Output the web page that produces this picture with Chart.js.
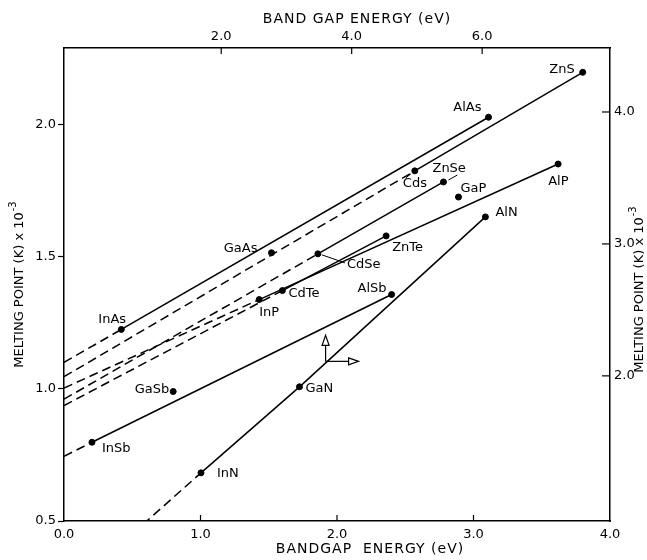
<!DOCTYPE html>
<html>
<head>
<meta charset="utf-8">
<script src="https://cdn.jsdelivr.net/npm/chart.js@4.4.0/dist/chart.umd.min.js"></script>
<style>
  body { margin: 0; background: #fff; }
  #wrap { width: 647px; height: 560px; }
</style>
</head>
<body>
<div id="wrap"><canvas id="meltChart" width="647" height="560"></canvas></div>
<script>
// Compounds read against bottom (band gap, eV) and left (melting point, K x 10^-3) axes
const compounds    = ['ZnS', 'AlAs', 'Cds', 'ZnSe', 'GaP', 'AlP', 'ZnTe', 'GaAs', 'CdSe', 'CdTe', 'InP', 'InAs', 'AlSb', 'GaSb', 'InSb'];
const bandGap      = [3.80, 3.11, 2.57, 2.78, 2.89, 3.62, 2.36, 1.52, 1.86, 1.60, 1.43, 0.42, 2.40, 0.80, 0.205];
const meltingPoint = [2.198, 2.028, 1.825, 1.783, 1.726, 1.851, 1.579, 1.515, 1.511, 1.372, 1.338, 1.225, 1.357, 0.99, 0.798];

// Nitrides, read against top and right axes
const nitrides    = ['InN', 'GaN', 'AlN'];
const nitrideGap  = [1.69, 3.20, 6.05];
const nitrideMelt = [1.265, 1.917, 3.205];
const nitrideAxisEnd = [0.80, 0.874]; // where the dashed part leaves the frame

// Solid lines between compounds, and the melting point where each dashed extension meets the left axis
const lineFrom = ['InAs', 'Cds', 'CdSe', 'InP', 'CdTe', 'InSb'];
const lineTo   = ['AlAs', 'ZnS', 'ZnSe', 'AlP', 'ZnTe', 'AlSb'];
const axisMelt = [1.100, 1.046, 0.961, 1.003, 0.937, 0.745];

// Tick labels
const bottomTicks = [0, 1, 2, 3, 4];
const leftTicks   = [0.5, 1.0, 1.5, 2.0];
const topTicks    = [2, 4, 6];
const rightTicks  = [2, 3, 4];

const FONT = '"DejaVu Sans", sans-serif';
const lineStyle = { borderColor: '#000', borderWidth: 1.5, pointRadius: 0, showLine: true, fill: false };
const dash = [9, 5];

function pt(name) {
    const i = compounds.indexOf(name);
    return { x: bandGap[i], y: meltingPoint[i] };
}

const datasets = [];
lineFrom.forEach(function(a, k) {
    datasets.push(Object.assign({ data: [{ x: 0, y: axisMelt[k] }, pt(a)], borderDash: dash }, lineStyle));
    datasets.push(Object.assign({ data: [pt(a), pt(lineTo[k])] }, lineStyle));
});
const nitridePts = nitrides.map(function(n, i) { return { x: nitrideGap[i], y: nitrideMelt[i] }; });
datasets.push(Object.assign({ data: [{ x: nitrideAxisEnd[0], y: nitrideAxisEnd[1] }, nitridePts[0]], borderDash: dash, xAxisID: 'x2', yAxisID: 'y2' }, lineStyle));
datasets.push(Object.assign({ data: nitridePts, xAxisID: 'x2', yAxisID: 'y2' }, lineStyle));
datasets.push({ data: compounds.map(pt), showLine: false, pointRadius: 3, backgroundColor: '#000', borderColor: '#000' });
datasets.push({ data: nitridePts, showLine: false, pointRadius: 3, backgroundColor: '#000', borderColor: '#000', xAxisID: 'x2', yAxisID: 'y2' });

// Label placement (pixel offset from the dot)
const labelPos = {
    ZnS: [-8, -3, 'right'], AlAs: [-7, -10, 'right'], ZnSe: [-11, -13, 'left'], Cds: [-12, 13, 'left'],
    GaP: [2, -8, 'left'], AlP: [-10, 18, 'left'], ZnTe: [6, 12, 'left'], GaAs: [-14, -4, 'right'],
    CdSe: [29, 11, 'left'], CdTe: [6, 3, 'left'], InP: [0, 13, 'left'], InAs: [-23, -10, 'left'],
    AlSb: [-5, -6, 'right'], GaSb: [-4, -2, 'right'], InSb: [10, 6, 'left'],
    InN: [16, 1, 'left'], GaN: [6, 2, 'left'], AlN: [10, -4, 'left']
};
const arrowAt = { x: 3.6, y: 2.11 }; // top/right axis values

function vTitle(ctx, cx, cy) {
    const main = 'MELTING POINT (K) x 10';
    ctx.save();
    ctx.translate(cx, cy);
    ctx.rotate(-Math.PI / 2);
    ctx.font = '13px ' + FONT;
    const w1 = ctx.measureText(main).width;
    ctx.font = '10px ' + FONT;
    const w2 = ctx.measureText('-3').width;
    const start = -(w1 + w2) / 2;
    ctx.textAlign = 'left';
    ctx.textBaseline = 'middle';
    ctx.font = '13px ' + FONT;
    ctx.fillText(main, start, 0);
    ctx.font = '10px ' + FONT;
    ctx.fillText('-3', start + w1 + 1, -7);
    ctx.restore();
}

function seg(ctx, x1, y1, x2, y2) {
    ctx.beginPath();
    ctx.moveTo(x1, y1);
    ctx.lineTo(x2, y2);
    ctx.stroke();
}

const annotations = {
    id: 'annotations',
    afterDatasetsDraw: function(chart) {
        const ctx = chart.ctx;
        const s = chart.scales;
        const area = chart.chartArea;
        ctx.save();
        ctx.fillStyle = '#000';
        ctx.strokeStyle = '#000';
        ctx.lineWidth = 1.2;

        // inward ticks on bottom, top and right
        bottomTicks.slice(1, -1).forEach(function(v) {
            const px = s.x.getPixelForValue(v);
            seg(ctx, px, area.bottom, px, area.bottom - 6);
        });
        topTicks.forEach(function(v) {
            const px = s.x2.getPixelForValue(v);
            seg(ctx, px, area.top, px, area.top + 6);
        });
        rightTicks.forEach(function(v) {
            const py = s.y2.getPixelForValue(v);
            seg(ctx, area.right, py, area.right - 8, py);
        });

        // compound labels
        ctx.font = '13px ' + FONT;
        ctx.textBaseline = 'middle';
        const dots = {};
        compounds.forEach(function(n, i) {
            dots[n] = [s.x.getPixelForValue(bandGap[i]), s.y.getPixelForValue(meltingPoint[i])];
        });
        nitrides.forEach(function(n, i) {
            dots[n] = [s.x2.getPixelForValue(nitrideGap[i]), s.y2.getPixelForValue(nitrideMelt[i])];
        });
        Object.keys(dots).forEach(function(n) {
            const p = labelPos[n];
            ctx.textAlign = p[2];
            ctx.fillText(n, dots[n][0] + p[0], dots[n][1] + p[1]);
        });

        // leader marks
        ctx.lineWidth = 1;
        const cdse = dots['CdSe'], cds = dots['Cds'], znse = dots['ZnSe'];
        seg(ctx, cdse[0] + 4, cdse[1] + 1, cdse[0] + 27, cdse[1] + 9);
        seg(ctx, cds[0] - 9, cds[1] + 7, cds[0] - 4, cds[1] + 3);
        seg(ctx, znse[0] + 14, znse[1] - 7, znse[0] + 5, znse[1] - 2);

        // axis-direction symbol on the nitride line
        const ax = s.x2.getPixelForValue(arrowAt.x), ay = s.y2.getPixelForValue(arrowAt.y);
        ctx.lineWidth = 1.2;
        seg(ctx, ax, ay, ax, ay - 16);
        ctx.beginPath();
        ctx.moveTo(ax - 3.5, ay - 16); ctx.lineTo(ax + 3.5, ay - 16); ctx.lineTo(ax, ay - 26); ctx.closePath();
        ctx.stroke();
        seg(ctx, ax, ay, ax + 23, ay);
        ctx.beginPath();
        ctx.moveTo(ax + 23, ay - 3.5); ctx.lineTo(ax + 23, ay + 3.5); ctx.lineTo(ax + 33, ay); ctx.closePath();
        ctx.stroke();

        // axis titles
        ctx.font = '14px ' + FONT;
        ctx.textAlign = 'center';
        ctx.letterSpacing = '1px';
        ctx.fillText('BAND GAP ENERGY (eV)', 357, 19);
        ctx.fillText('BANDGAP  ENERGY (eV)', 370, 549);
        ctx.letterSpacing = '0px';
        vTitle(ctx, 20, 285);
        vTitle(ctx, 640, 290);
        ctx.restore();
    }
};

function tickSet(list) {
    return function(scale) { scale.ticks = list.map(function(v) { return { value: v }; }); };
}
const tickFont = { family: FONT, size: 13 };
const border = { display: true, color: '#000', width: 1.5 };

document.addEventListener('DOMContentLoaded', function() {
    const ctx = document.getElementById('meltChart').getContext('2d');
    new Chart(ctx, {
        type: 'scatter',
        data: { datasets: datasets },
        options: {
            responsive: false,
            animation: false,
            devicePixelRatio: 1,
            layout: { padding: 0 },
            plugins: { legend: { display: false }, tooltip: { enabled: false } },
            scales: {
                x: {
                    type: 'linear', position: 'bottom', min: 0, max: 4,
                    afterBuildTicks: tickSet(bottomTicks),
                    afterFit: function(sc) { sc.height = 39; },
                    grid: { drawOnChartArea: false, drawTicks: false },
                    border: border,
                    ticks: { color: '#000', font: tickFont, padding: 6, maxRotation: 0, autoSkip: false,
                             callback: function(v) { return v.toFixed(1); } }
                },
                x2: {
                    type: 'linear', position: 'top', min: -0.41, max: 7.96,
                    afterBuildTicks: tickSet(topTicks),
                    afterFit: function(sc) { sc.height = 48; },
                    grid: { drawOnChartArea: false, drawTicks: false },
                    border: border,
                    ticks: { color: '#000', font: tickFont, padding: 4, maxRotation: 0, autoSkip: false,
                             callback: function(v) { return v.toFixed(1); } }
                },
                y: {
                    type: 'linear', position: 'left', min: 0.5, max: 2.29,
                    afterBuildTicks: tickSet(leftTicks),
                    afterFit: function(sc) { sc.width = 64; },
                    grid: { drawOnChartArea: false, drawTicks: true, tickLength: 6, color: '#000', tickWidth: 1.2 },
                    border: border,
                    ticks: { color: '#000', font: tickFont, padding: 2, autoSkip: false,
                             callback: function(v) { return v.toFixed(1); } }
                },
                y2: {
                    type: 'linear', position: 'right', min: 0.90, max: 4.485,
                    afterBuildTicks: tickSet(rightTicks),
                    afterFit: function(sc) { sc.width = 37; },
                    grid: { drawOnChartArea: false, drawTicks: false },
                    border: border,
                    ticks: { color: '#000', font: tickFont, padding: 4, autoSkip: false,
                             callback: function(v) { return v.toFixed(1); } }
                }
            }
        },
        plugins: [annotations]
    });
});
</script>
</body>
</html>
